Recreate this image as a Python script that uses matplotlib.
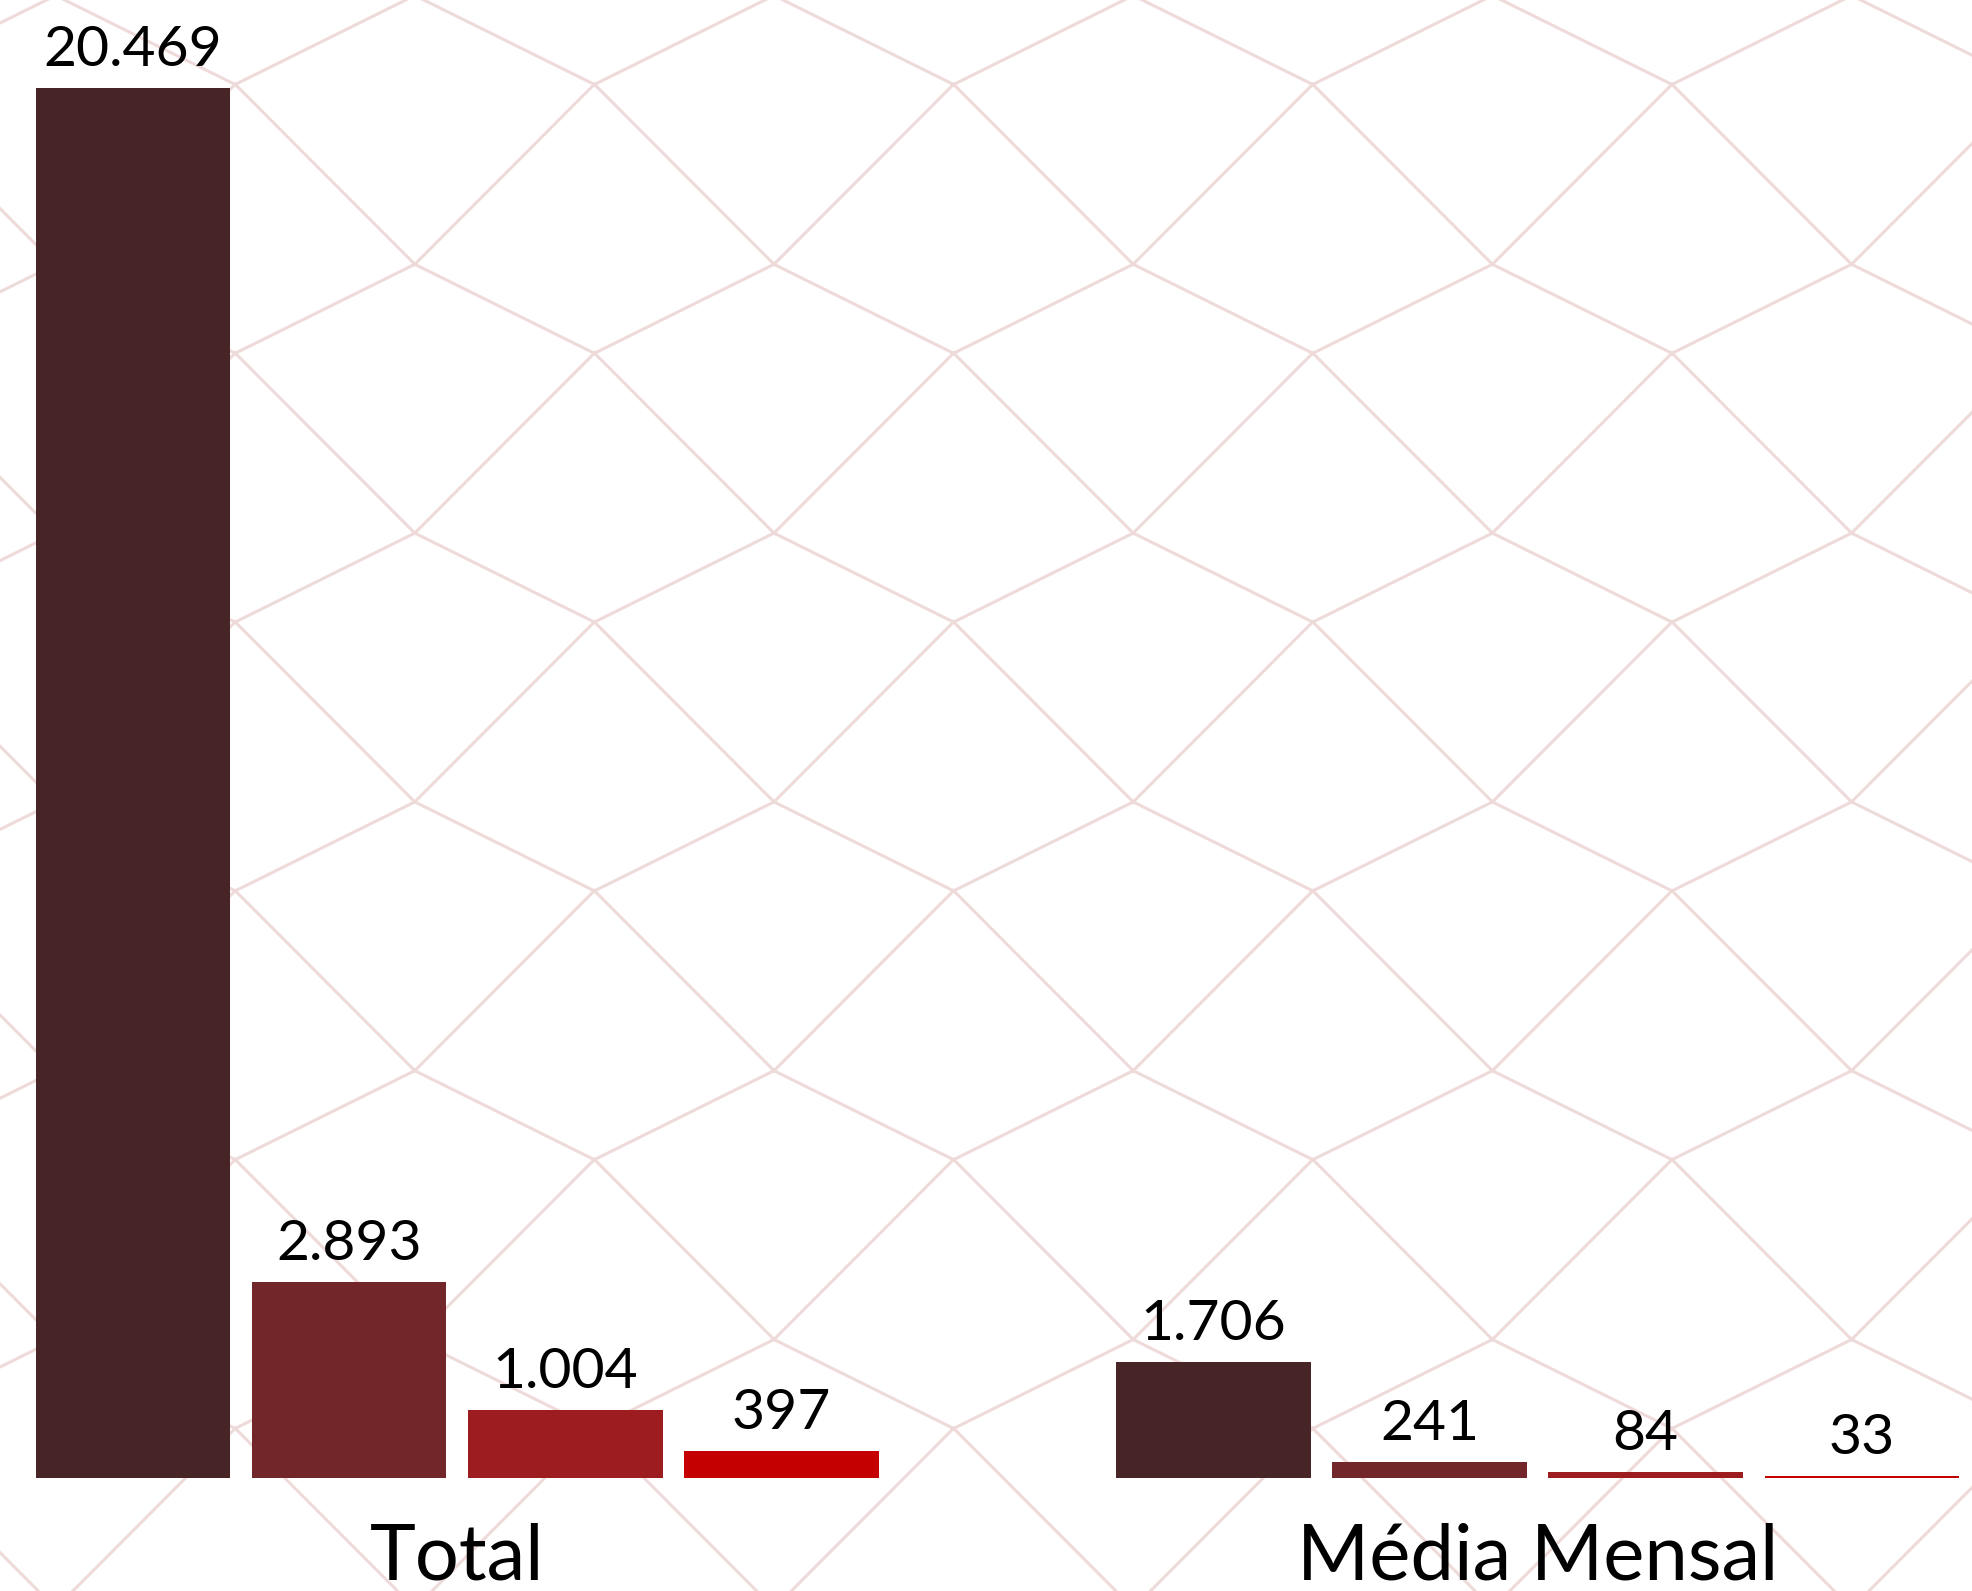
import numpy as np
import matplotlib.pyplot as plt

# values
categories = ['Total', 'Média Mensal']
series_1 = [20469, 1706]
series_2 = [2893, 241]
series_3 = [1004, 84]
series_4 = [397, 33]
labels_1 = ['20.469', '1.706']
labels_2 = ['2.893', '241']
labels_3 = ['1.004', '84']
labels_4 = ['397', '33']

colors = ['#472426', '#722629', '#9c1c1f', '#c40000']

plt.rcParams['font.family'] = ['Lato', 'DejaVu Sans']

fig = plt.figure(figsize=(19.72, 15.91), dpi=100)

# background lattice, drawn in pixel space
bg = fig.add_axes([0, 0, 1, 1])
bg.set_xlim(0, 1972)
bg.set_ylim(1591, 0)
bg.axis('off')
px, py = 359.2, 268.8
dx, steep, shallow = 179.6, 180.0, 89.0
line_col = '#efdada'
for r in range(-1, 8):
    ya = 84.3 + r * py
    for k in range(-2, 8):
        xa = 235.2 + k * px
        # A vertex -> steep down to B vertices
        for s in (-1, 1):
            bg.plot([xa, xa + s * dx], [ya, ya + steep], color=line_col, lw=2.2, zorder=0)
        # B vertex -> shallow down to next A vertices
        xb = xa + dx
        yb = ya + steep
        for s in (-1, 1):
            bg.plot([xb, xb + s * dx], [yb, yb + shallow], color=line_col, lw=2.2, zorder=0)

ax = fig.add_axes([0, 0, 1, 1])
ax.patch.set_alpha(0)

x = np.arange(len(categories)) * 5.0
width = 0.9
series = [series_1, series_2, series_3, series_4]
labels = [labels_1, labels_2, labels_3, labels_4]
for j, (vals, labs) in enumerate(zip(series, labels)):
    xs = x + (j - 1.5)
    ax.bar(xs, vals, width=width, color=colors[j], zorder=3)
    for xi, v, lab in zip(xs, vals, labs):
        ax.annotate(lab, (xi, v), xytext=(0, 22), textcoords='offset pixels',
                    ha='center', va='baseline', fontsize=41, color='black')

for xi, cat in zip(x, categories):
    ax.text(xi, -1490, cat, ha='center', va='baseline', fontsize=56, color='black')

ax.set_xlim(-2.116, 7.01)
ax.set_ylim(-1664, 21765)
ax.axis('off')

plt.savefig('out.png', dpi=100)
